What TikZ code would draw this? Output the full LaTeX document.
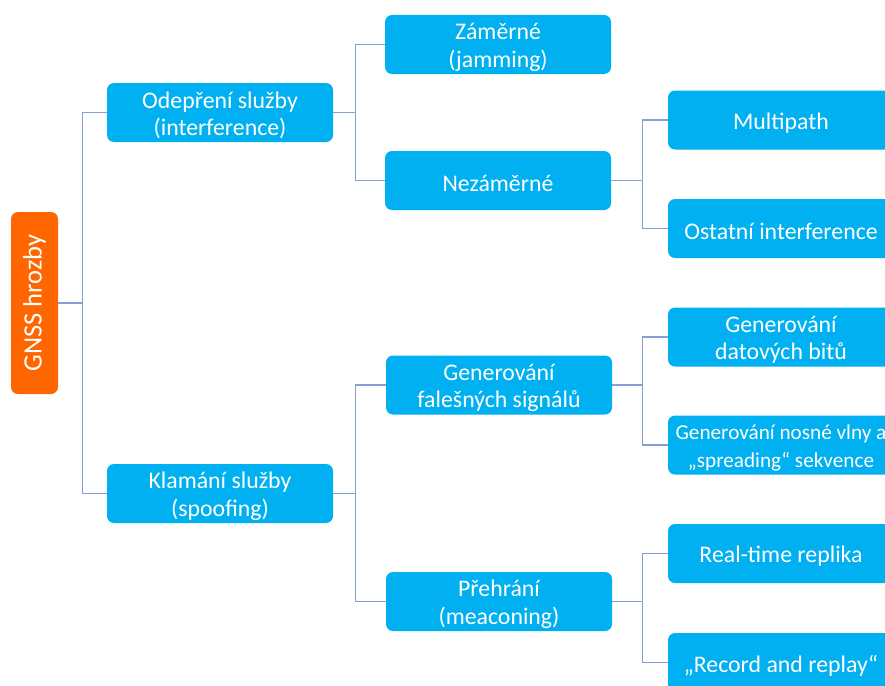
\documentclass[tikz,border=0pt]{standalone}
\usepackage{fontspec}
\setmainfont{Carlito}
\begin{document}
\definecolor{boxblue}{RGB}{0,176,240}
\definecolor{rootorange}{RGB}{255,102,0}
\definecolor{linkblue}{RGB}{132,160,214}
\begin{tikzpicture}[x=1pt,y=-1pt,
  lbl/.style={text=white, align=center, inner sep=0pt, yshift=-3pt,
    font=\fontsize{23.8}{27.5}\selectfont},
  smalllbl/.style={lbl, font=\fontsize{21.2}{28}\selectfont},
  box/.style={fill=boxblue, rounded corners=7pt,
    minimum width=226pt, minimum height=59pt, inner sep=0pt,
    label={[lbl]center:{#1}}},
  smallbox/.style={fill=boxblue, rounded corners=7pt,
    minimum width=226pt, minimum height=59pt, inner sep=0pt,
    label={[smalllbl]center:{#1}}},
  rootbox/.style={fill=rootorange, rounded corners=7pt, text=white, rotate=90,
    minimum width=182pt, minimum height=47pt, inner sep=2pt,
    font=\fontsize{26.5}{30}\selectfont},
  link/.style={draw=linkblue, line width=1.3pt}]
\useasboundingbox (0,0) rectangle (885,685);
\clip (0,0) rectangle (885,685);

% root
\node[rootbox] (root) at (34.5,303) {GNSS hrozby};

% first level
\node[box={Odepření služby\\(interference)}] (deny) at (220,112.5) {};
\node[box={Klamání služby\\(spoofing)}] (spoof) at (220,493.5) {};

% second level
\node[box={Záměrné\\(jamming)}] (jam) at (498,44.5) {};
\node[box={Nezáměrné}] (unint) at (498,180.5) {};
\node[box={Generování\\falešných signálů}] (gen) at (499,385) {};
\node[box={Přehrání\\(meaconing)}] (meac) at (499,601.5) {};

% third level
\node[box={Multipath}] (multi) at (781,120) {};
\node[box={Ostatní interference}] (other) at (781,228.5) {};
\node[box={Generování\\datových bitů}] (bits) at (781,337) {};
\node[smallbox={Generování nosné vlny a\\„spreading“ sekvence}] (carrier) at (781,445) {};
\node[box={Real-time replika}] (rt) at (781,553.5) {};
\node[box={„Record and replay“}] (rec) at (781,662.5) {};

% connectors
\draw[link] (root.south) -- ++(24,0) coordinate (j0);
\draw[link] (j0) |- (deny.west);
\draw[link] (j0) |- (spoof.west);

\draw[link] (deny.east) -- ++(22,0) coordinate (j1);
\draw[link] (j1) |- (jam.west);
\draw[link] (j1) |- (unint.west);

\draw[link] (spoof.east) -- ++(22,0) coordinate (j2);
\draw[link] (j2) |- (gen.west);
\draw[link] (j2) |- (meac.west);

\draw[link] (unint.east) -- ++(31,0) coordinate (j3);
\draw[link] (j3) |- (multi.west);
\draw[link] (j3) |- (other.west);

\draw[link] (gen.east) -- ++(30,0) coordinate (j4);
\draw[link] (j4) |- (bits.west);
\draw[link] (j4) |- (carrier.west);

\draw[link] (meac.east) -- ++(30,0) coordinate (j5);
\draw[link] (j5) |- (rt.west);
\draw[link] (j5) |- (rec.west);
\end{tikzpicture}
\end{document}
